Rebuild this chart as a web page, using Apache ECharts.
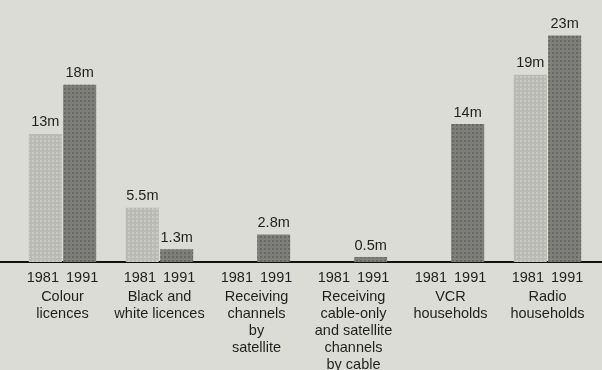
<!DOCTYPE html>
<html>
<head>
<meta charset="utf-8">
<script src="https://cdn.jsdelivr.net/npm/echarts@6/dist/echarts.min.js"></script>
<style>
  html, body { margin: 0; padding: 0; background: #dcdcd6; }
  #chart { width: 602px; height: 370px; }
</style>
</head>
<body>
<div id="chart"></div>
<script>
const categories = [
  "Colour\nlicences",
  "Black and\nwhite licences",
  "Receiving\nchannels\nby\nsatellite",
  "Receiving\ncable-only\nand satellite\nchannels\nby cable",
  "VCR\nhouseholds",
  "Radio\nhouseholds"
];
const years = ["1981", "1991"];
const values1981 = [13, 5.5, 0, 0, 0, 19];
const values1991 = [18, 1.3, 2.8, 0.5, 14, 23];

const FONT = '"Liberation Sans", Arial, Helvetica, sans-serif';
const TEXT = "#1f1f1f";
const FS = 14.5;

function catLabel(value) {
  const lines = value.split("\n").map(l => "{n|" + l + "}");
  return "{y|" + years[0] + "}{g|}{y|" + years[1] + "}\n" + lines.join("\n");
}

const valueLabel = {
  show: true,
  position: "top",
  distance: 4,
  fontFamily: FONT,
  fontSize: FS,
  color: TEXT,
  formatter: p => (p.value > 0 ? p.value + "m" : "")
};

const chart = echarts.init(document.getElementById("chart"), null, { renderer: "canvas" });
chart.setOption({
  backgroundColor: "#dcdcd6",
  animation: false,
  grid: [
    { left: 14, right: 6, top: 0, bottom: 108, outerBoundsMode: "none", containLabel: false },
    { left: 0, right: 0, top: 0, bottom: 108, outerBoundsMode: "none", containLabel: false }
  ],
  xAxis: [
    {
      type: "category",
      gridIndex: 0,
      data: categories,
      axisLine: { show: false },
      axisTick: { show: false },
      axisLabel: {
        interval: 0,
        margin: 5,
        formatter: catLabel,
        rich: {
          y: { fontFamily: FONT, fontSize: FS, color: TEXT, lineHeight: 21 },
          g: { width: 7, lineHeight: 21 },
          n: { fontFamily: FONT, fontSize: FS, color: TEXT, lineHeight: 17 }
        }
      }
    },
    {
      type: "category",
      gridIndex: 1,
      data: [""],
      axisLine: { show: true, lineStyle: { color: "#111", width: 2 } },
      axisTick: { show: false },
      axisLabel: { show: false }
    }
  ],
  yAxis: [
    { type: "value", gridIndex: 0, min: 0, max: 26.6, show: false, splitLine: { show: false } },
    { type: "value", gridIndex: 1, min: 0, max: 26.6, show: false, splitLine: { show: false } }
  ],
  series: [
    {
      name: years[0],
      type: "bar",
      xAxisIndex: 0,
      yAxisIndex: 0,
      data: values1981,
      barWidth: 33,
      barGap: "4%",
      itemStyle: {
        color: "#b9bab2",
        decal: { symbol: "rect", symbolSize: 1, dashArrayX: [2, 2], dashArrayY: [2, 2], color: "rgba(235,235,230,0.35)" }
      },
      label: valueLabel
    },
    {
      name: years[1],
      type: "bar",
      xAxisIndex: 0,
      yAxisIndex: 0,
      data: values1991,
      barWidth: 33,
      itemStyle: {
        color: "#7e7f7a",
        decal: { symbol: "rect", symbolSize: 1, dashArrayX: [2, 2], dashArrayY: [2, 2], color: "rgba(60,60,58,0.35)" }
      },
      label: valueLabel
    }
  ]
});
</script>
</body>
</html>
